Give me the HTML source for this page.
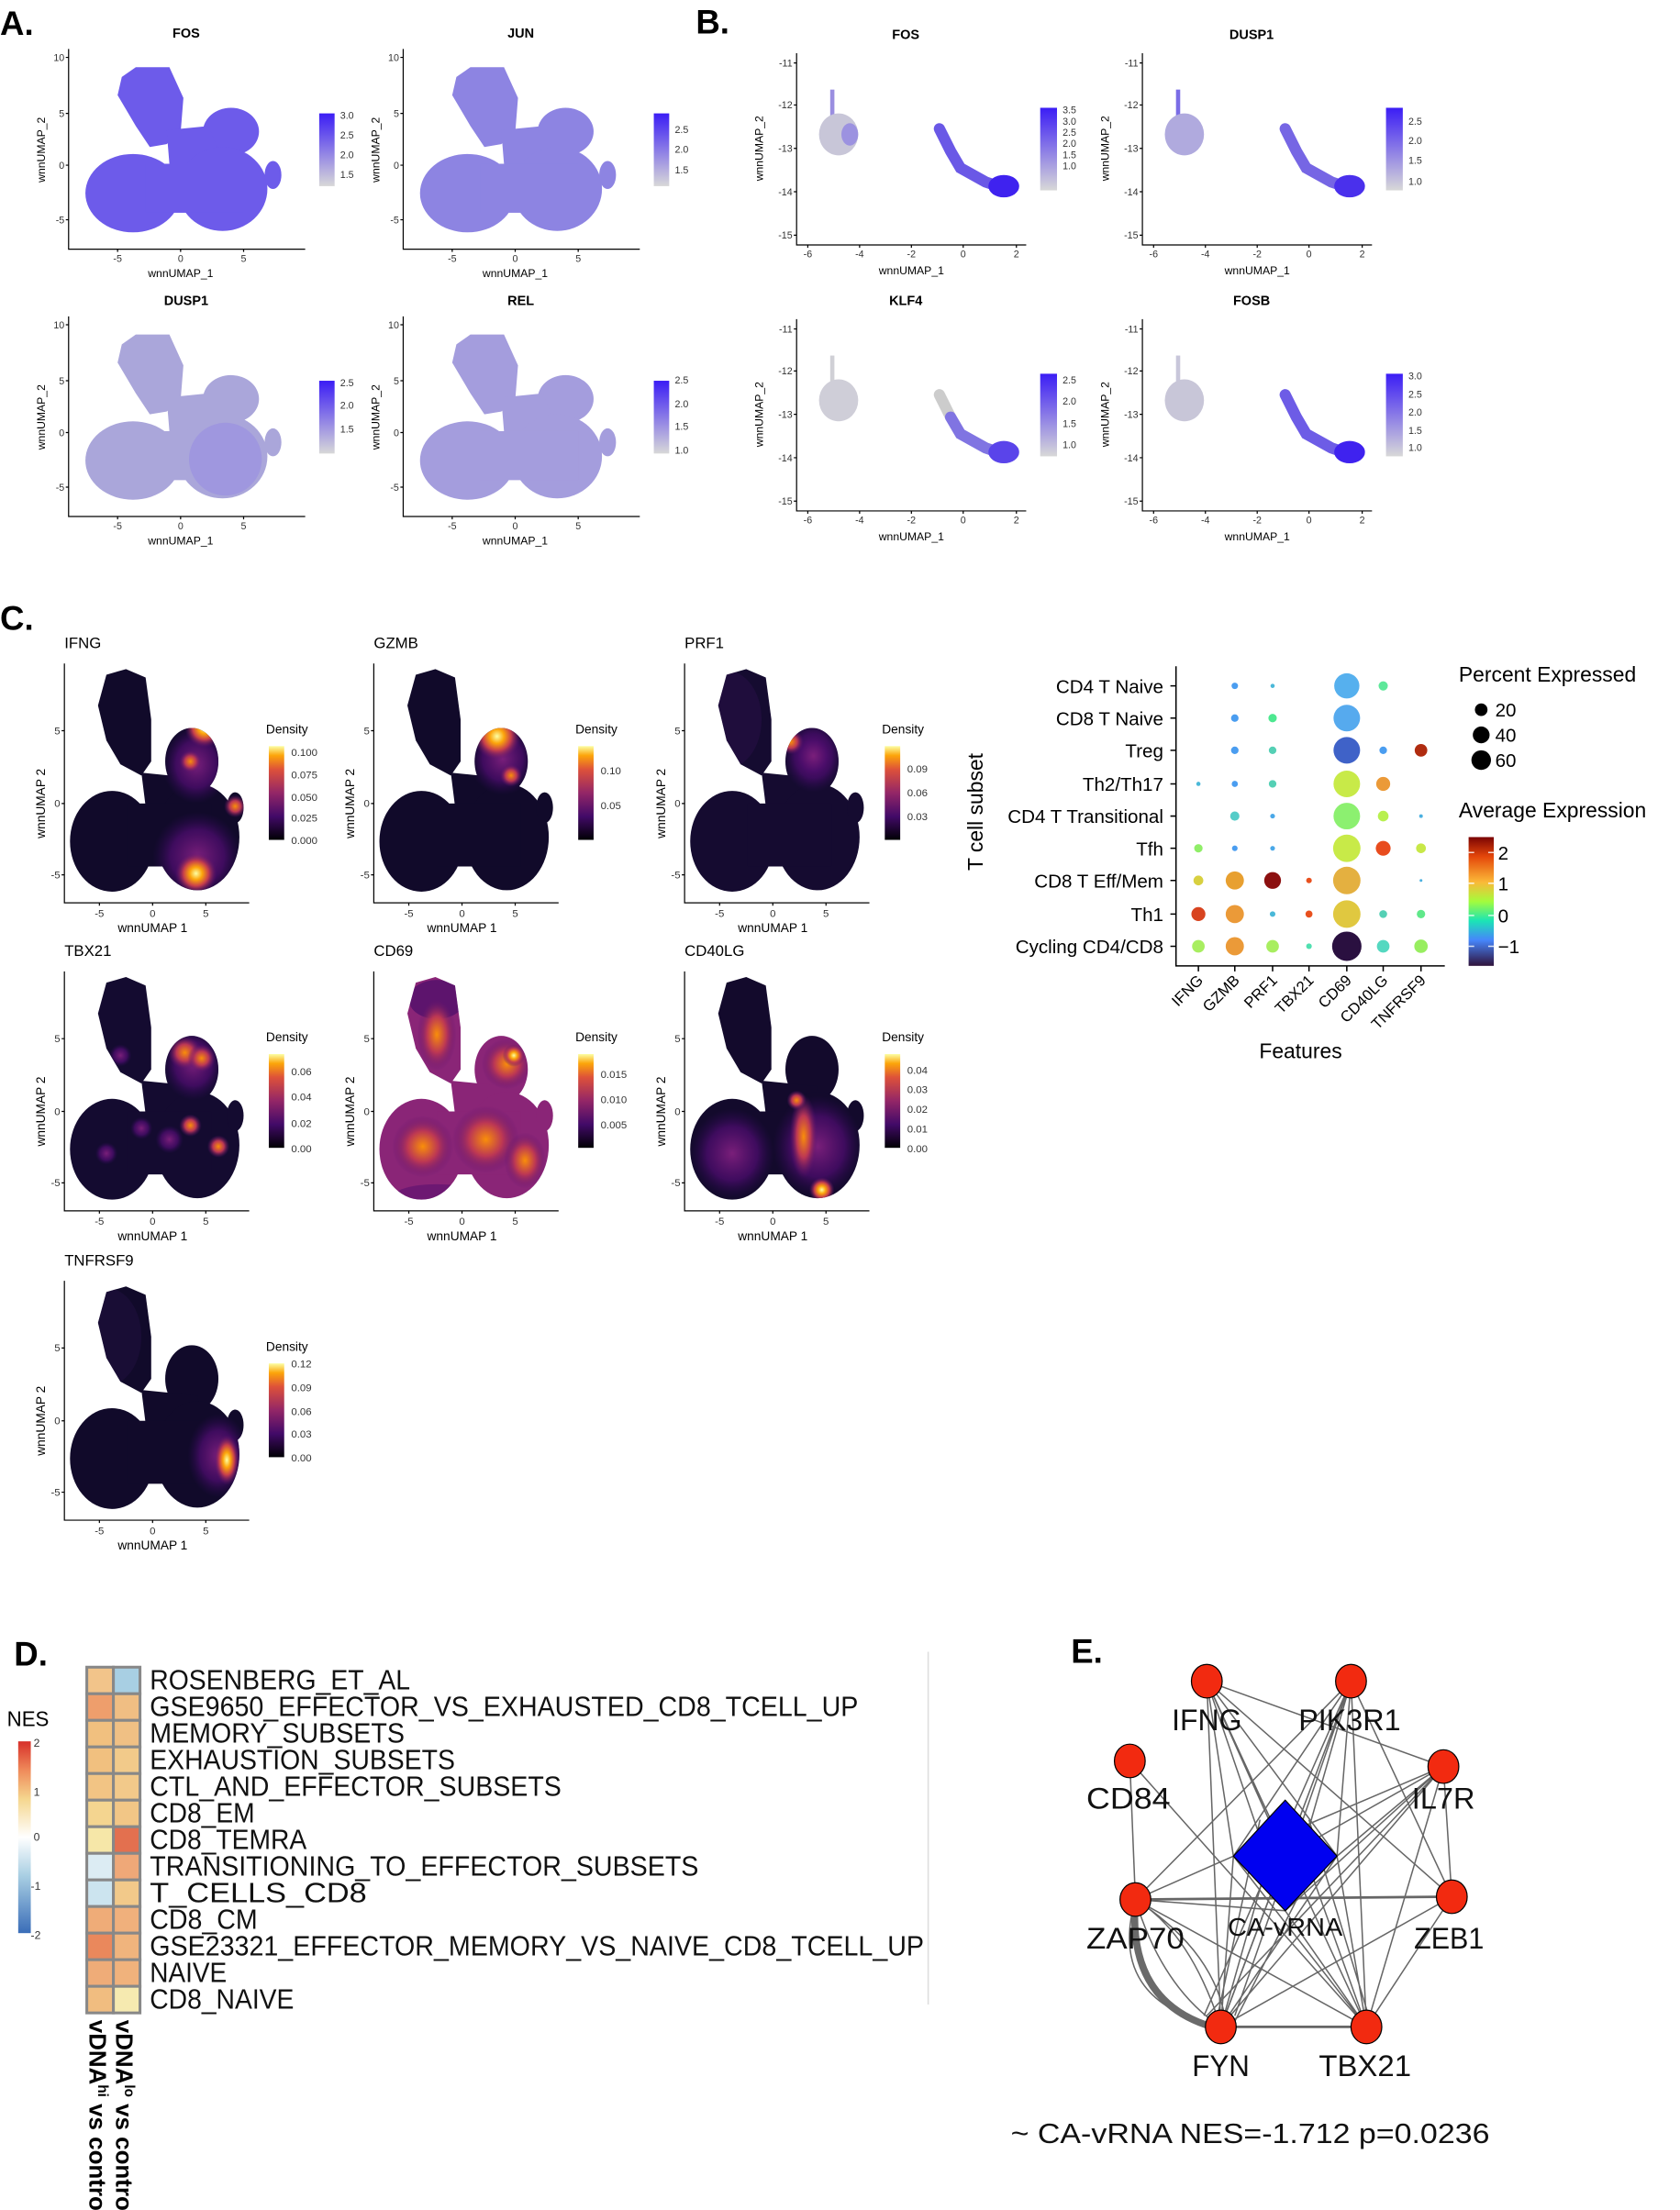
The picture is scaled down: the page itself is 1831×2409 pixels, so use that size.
<!DOCTYPE html>
<html><head><meta charset="utf-8"><style>html,body{margin:0;padding:0;background:#fff}svg{display:block}text{font-family:"Liberation Sans",sans-serif}</style></head><body>
<svg width="1831" height="2409" viewBox="0 0 1200 1578.8" preserveAspectRatio="none" xmlns="http://www.w3.org/2000/svg">
<defs>
<linearGradient id="gA" x1="0" y1="0" x2="0" y2="1"><stop offset="0" stop-color="#3b1df5"/><stop offset="1" stop-color="#d8d8d8"/></linearGradient>
<linearGradient id="gInf" x1="0" y1="1" x2="0" y2="0"><stop offset="0" stop-color="#000004"/><stop offset=".25" stop-color="#420a68"/><stop offset=".5" stop-color="#932667"/><stop offset=".75" stop-color="#dd513a"/><stop offset=".9" stop-color="#fca50a"/><stop offset="1" stop-color="#fcffa4"/></linearGradient>
<linearGradient id="gTurbo" x1="0" y1="1" x2="0" y2="0"><stop offset="0" stop-color="#30123b"/><stop offset=".2" stop-color="#4686fb"/><stop offset=".35" stop-color="#1be5b5"/><stop offset=".5" stop-color="#a4fc3c"/><stop offset=".65" stop-color="#fbb938"/><stop offset=".85" stop-color="#e4460a"/><stop offset="1" stop-color="#7a0403"/></linearGradient>
<linearGradient id="gNES" x1="0" y1="1" x2="0" y2="0"><stop offset="0" stop-color="#3a6db8"/><stop offset=".3" stop-color="#a9cfe3"/><stop offset=".5" stop-color="#ffffff"/><stop offset=".7" stop-color="#f5d68e"/><stop offset=".85" stop-color="#ef8a5a"/><stop offset="1" stop-color="#d7302a"/></linearGradient>
<radialGradient id="hY"><stop offset="0" stop-color="#fcffa4"/><stop offset=".3" stop-color="#fca50a"/><stop offset=".6" stop-color="#c73e4c"/><stop offset="1" stop-color="#57106e" stop-opacity="0"/></radialGradient>
<radialGradient id="hO"><stop offset="0" stop-color="#f98e09"/><stop offset=".5" stop-color="#bc3754"/><stop offset="1" stop-color="#57106e" stop-opacity="0"/></radialGradient>
<radialGradient id="hP"><stop offset="0" stop-color="#7a1f7a"/><stop offset=".6" stop-color="#4a0c6b" stop-opacity=".8"/><stop offset="1" stop-color="#2a0a50" stop-opacity="0"/></radialGradient>
<g id="shA">
<polygon points="38,20 48,13 72,13 82,35 80,60 70,68 58,70 48,55 35,33"/>
<ellipse cx="116" cy="59" rx="20" ry="17"/>
<polygon points="70,58 100,55 112,85 95,92 72,82"/>
<ellipse cx="46" cy="103" rx="34" ry="28"/>
<ellipse cx="110" cy="100" rx="32" ry="30"/>
<ellipse cx="146" cy="90" rx="6" ry="10"/>
<rect x="55" y="82" width="70" height="35"/>
</g>
<g id="shC">
<polygon points="30,8 44,4 58,10 62,40 62,70 55,80 40,72 30,55 24,30"/>
<ellipse cx="91" cy="70" rx="19" ry="24"/>
<polygon points="55,78 95,82 98,100 58,102"/>
<ellipse cx="34" cy="127" rx="30" ry="36"/>
<ellipse cx="95" cy="124" rx="30" ry="38"/>
<ellipse cx="122" cy="103" rx="6" ry="11"/>
<rect x="45" y="100" width="60" height="45"/>
</g>
<clipPath id="clC">
<polygon points="30,8 44,4 58,10 62,40 62,70 55,80 40,72 30,55 24,30"/>
<ellipse cx="91" cy="70" rx="19" ry="24"/>
<polygon points="55,78 95,82 98,100 58,102"/>
<ellipse cx="34" cy="127" rx="30" ry="36"/>
<ellipse cx="95" cy="124" rx="30" ry="38"/>
<ellipse cx="122" cy="103" rx="6" ry="11"/>
<rect x="45" y="100" width="60" height="45"/>
</clipPath>
<g id="axA" stroke="#000" stroke-width=".8" fill="none"><path d="M0,0V143H169"/><path d="M-2,6H0M-2,46H0M-2,83H0M-2,122H0M35,143v2M80,143v2M125,143v2"/></g>
<g id="axAt" font-size="7" fill="#333"><g text-anchor="end"><text x="-3" y="8.5">10</text><text x="-3" y="48.5">5</text><text x="-3" y="85.5">0</text><text x="-3" y="124.5">-5</text></g><g text-anchor="middle"><text x="35" y="152">-5</text><text x="80" y="152">0</text><text x="125" y="152">5</text><text x="80" y="163" font-size="8" fill="#000">wnnUMAP_1</text></g><text transform="translate(-17,72) rotate(-90)" text-anchor="middle" font-size="8" fill="#000">wnnUMAP_2</text></g>
<g id="axB" stroke="#000" stroke-width=".8" fill="none"><path d="M0,0V137H164"/><path d="M-2,7H0M-2,37H0M-2,68H0M-2,99H0M-2,130H0M8,137v2M45,137v2M82,137v2M119,137v2M157,137v2"/></g>
<g id="axBt" font-size="7" fill="#333"><g text-anchor="end"><text x="-3" y="9.5">-11</text><text x="-3" y="39.5">-12</text><text x="-3" y="70.5">-13</text><text x="-3" y="101.5">-14</text><text x="-3" y="132.5">-15</text></g><g text-anchor="middle"><text x="8" y="146">-6</text><text x="45" y="146">-4</text><text x="82" y="146">-2</text><text x="119" y="146">0</text><text x="157" y="146">2</text><text x="82" y="158" font-size="8" fill="#000">wnnUMAP_1</text></g><text transform="translate(-24,68) rotate(-90)" text-anchor="middle" font-size="8" fill="#000">wnnUMAP_2</text></g>
<g id="axC" stroke="#000" stroke-width=".8" fill="none"><path d="M0,0V171H132"/><path d="M-2,48H0M-2,100H0M-2,151H0M25,171v2M63,171v2M101,171v2"/></g>
<g id="axCt" font-size="7.5" fill="#333"><g text-anchor="end"><text x="-3" y="50.5">5</text><text x="-3" y="102.5">0</text><text x="-3" y="153.5">-5</text></g><g text-anchor="middle"><text x="25" y="181">-5</text><text x="63" y="181">0</text><text x="101" y="181">5</text><text x="63" y="192" font-size="9" fill="#000">wnnUMAP 1</text></g><text transform="translate(-14,100) rotate(-90)" text-anchor="middle" font-size="9" fill="#000">wnnUMAP 2</text></g>
</defs>
<rect width="1200" height="1579" fill="#fff"/>

<!-- Panel A -->
<text x="0" y="25" font-size="24" font-weight="bold">A.</text>
<text x="497" y="24" font-size="24" font-weight="bold">B.</text>
<g transform="translate(49,35)"><use href="#shA" fill="#6d5bea"/><use href="#axA"/><use href="#axAt"/><text x="84" y="-8" text-anchor="middle" font-size="9.5" font-weight="bold">FOS</text>
<rect x="179" y="46" width="11" height="52" fill="url(#gA)"/><g font-size="7" fill="#333"><text x="194" y="50">3.0</text><text x="194" y="64">2.5</text><text x="194" y="78">2.0</text><text x="194" y="92">1.5</text></g></g>
<g transform="translate(288,35)"><use href="#shA" fill="#8d84e2"/><use href="#axA"/><use href="#axAt"/><text x="84" y="-8" text-anchor="middle" font-size="9.5" font-weight="bold">JUN</text>
<rect x="179" y="46" width="11" height="52" fill="url(#gA)"/><g font-size="7" fill="#333"><text x="194" y="60">2.5</text><text x="194" y="74">2.0</text><text x="194" y="89">1.5</text></g></g>
<g transform="translate(49,226)"><use href="#shA" fill="#aaa6da"/><ellipse cx="112" cy="102" rx="26" ry="26" fill="#9c94e0" opacity=".8"/><use href="#axA"/><use href="#axAt"/><text x="84" y="-8" text-anchor="middle" font-size="9.5" font-weight="bold">DUSP1</text>
<rect x="179" y="46" width="11" height="52" fill="url(#gA)"/><g font-size="7" fill="#333"><text x="194" y="50">2.5</text><text x="194" y="66">2.0</text><text x="194" y="83">1.5</text></g></g>
<g transform="translate(288,226)"><use href="#shA" fill="#a49ddd"/><use href="#axA"/><use href="#axAt"/><text x="84" y="-8" text-anchor="middle" font-size="9.5" font-weight="bold">REL</text>
<rect x="179" y="46" width="11" height="52" fill="url(#gA)"/><g font-size="7" fill="#333"><text x="194" y="48">2.5</text><text x="194" y="65">2.0</text><text x="194" y="81">1.5</text><text x="194" y="98">1.0</text></g></g>

<!-- Panel B -->
<g transform="translate(569,38)"><rect x="24" y="26" width="3" height="20" fill="#9a8ee0"/><ellipse cx="30" cy="58" rx="14" ry="15" fill="#c8c6d8"/><ellipse cx="38" cy="58" rx="6" ry="8" fill="#9c92e0"/><path d="M102,54 L110,70 L117,82 L135,92 L150,97" stroke="#6a58e6" stroke-width="8" fill="none" stroke-linecap="round"/><ellipse cx="148" cy="95" rx="11" ry="8" fill="#3f22ef"/><use href="#axB"/><use href="#axBt"/><text x="78" y="-10" text-anchor="middle" font-size="9.5" font-weight="bold">FOS</text>
<rect x="174" y="39" width="12" height="59" fill="url(#gA)"/><g font-size="7" fill="#333"><text x="190" y="43">3.5</text><text x="190" y="51">3.0</text><text x="190" y="59">2.5</text><text x="190" y="67">2.0</text><text x="190" y="75">1.5</text><text x="190" y="83">1.0</text></g></g>
<g transform="translate(816,38)"><rect x="24" y="26" width="3" height="20" fill="#7a6ce6"/><ellipse cx="30" cy="58" rx="14" ry="15" fill="#b0aade"/><path d="M102,54 L110,70 L117,82 L135,92 L150,97" stroke="#7666e4" stroke-width="8" fill="none" stroke-linecap="round"/><ellipse cx="148" cy="95" rx="11" ry="8" fill="#4a30ec"/><use href="#axB"/><use href="#axBt"/><text x="78" y="-10" text-anchor="middle" font-size="9.5" font-weight="bold">DUSP1</text>
<rect x="174" y="39" width="12" height="59" fill="url(#gA)"/><g font-size="7" fill="#333"><text x="190" y="51">2.5</text><text x="190" y="65">2.0</text><text x="190" y="79">1.5</text><text x="190" y="94">1.0</text></g></g>
<g transform="translate(569,228)"><rect x="24" y="26" width="3" height="20" fill="#d0d0d6"/><ellipse cx="30" cy="58" rx="14" ry="15" fill="#cfced8"/><path d="M102,54 L110,70" stroke="#ccc" stroke-width="8" fill="none" stroke-linecap="round"/><path d="M110,70 L117,82 L135,92 L150,97" stroke="#8074e2" stroke-width="8" fill="none" stroke-linecap="round"/><ellipse cx="148" cy="95" rx="11" ry="8" fill="#5a44ea"/><use href="#axB"/><use href="#axBt"/><text x="78" y="-10" text-anchor="middle" font-size="9.5" font-weight="bold">KLF4</text>
<rect x="174" y="39" width="12" height="59" fill="url(#gA)"/><g font-size="7" fill="#333"><text x="190" y="46">2.5</text><text x="190" y="61">2.0</text><text x="190" y="77">1.5</text><text x="190" y="92">1.0</text></g></g>
<g transform="translate(816,228)"><rect x="24" y="26" width="3" height="20" fill="#c8c6da"/><ellipse cx="30" cy="58" rx="14" ry="15" fill="#c8c6d8"/><path d="M102,54 L110,70 L117,82 L135,92 L150,97" stroke="#6d5ce6" stroke-width="8" fill="none" stroke-linecap="round"/><ellipse cx="148" cy="95" rx="11" ry="8" fill="#3f22ef"/><use href="#axB"/><use href="#axBt"/><text x="78" y="-10" text-anchor="middle" font-size="9.5" font-weight="bold">FOSB</text>
<rect x="174" y="39" width="12" height="59" fill="url(#gA)"/><g font-size="7" fill="#333"><text x="190" y="43">3.0</text><text x="190" y="56">2.5</text><text x="190" y="69">2.0</text><text x="190" y="82">1.5</text><text x="190" y="94">1.0</text></g></g>

<!-- Panel C -->
<text x="0" y="450" font-size="24" font-weight="bold">C.</text>
<g transform="translate(46,474)"><use href="#shC" fill="#110a2a"/><g clip-path="url(#clC)"><ellipse cx="94" cy="72" rx="24" ry="28" fill="url(#hP)"/><ellipse cx="95" cy="138" rx="32" ry="32" fill="url(#hP)"/><circle cx="100" cy="46" r="14" fill="url(#hY)"/><circle cx="90" cy="70" r="8" fill="url(#hO)"/><circle cx="122" cy="102" r="8" fill="url(#hO)"/><circle cx="94" cy="150" r="15" fill="url(#hY)"/></g>
<use href="#axC"/><use href="#axCt"/><text x="0" y="-11" font-size="11">IFNG</text>
<text x="144" y="50" font-size="9">Density</text><rect x="146" y="59" width="11" height="67" fill="url(#gInf)"/><g font-size="7.5" fill="#333"><text x="162" y="66">0.100</text><text x="162" y="82">0.075</text><text x="162" y="98">0.050</text><text x="162" y="113">0.025</text><text x="162" y="129">0.000</text></g></g>
<g transform="translate(267,474)"><use href="#shC" fill="#110a2a"/><g clip-path="url(#clC)"><ellipse cx="92" cy="68" rx="24" ry="26" fill="url(#hP)"/><circle cx="88" cy="52" r="17" fill="url(#hY)"/><circle cx="98" cy="80" r="8" fill="url(#hO)"/></g>
<use href="#axC"/><use href="#axCt"/><text x="0" y="-11" font-size="11">GZMB</text>
<text x="144" y="50" font-size="9">Density</text><rect x="146" y="59" width="11" height="67" fill="url(#gInf)"/><g font-size="7.5" fill="#333"><text x="162" y="79">0.10</text><text x="162" y="104">0.05</text></g></g>
<g transform="translate(489,474)"><use href="#shC" fill="#150b30"/><g clip-path="url(#clC)"><ellipse cx="92" cy="66" rx="22" ry="26" fill="url(#hP)"/><ellipse cx="92" cy="66" rx="16" ry="18" fill="url(#hP)"/><circle cx="76" cy="56" r="9" fill="url(#hO)"/><ellipse cx="30" cy="40" rx="25" ry="35" fill="#2a0f48" opacity=".5"/></g>
<use href="#axC"/><use href="#axCt"/><text x="0" y="-11" font-size="11">PRF1</text>
<text x="141" y="50" font-size="9">Density</text><rect x="143" y="59" width="11" height="67" fill="url(#gInf)"/><g font-size="7.5" fill="#333"><text x="159" y="78">0.09</text><text x="159" y="95">0.06</text><text x="159" y="112">0.03</text></g></g>
<g transform="translate(46,694)"><use href="#shC" fill="#140b30"/><g clip-path="url(#clC)"><ellipse cx="92" cy="66" rx="22" ry="26" fill="url(#hP)"/><circle cx="86" cy="58" r="12" fill="url(#hO)"/><circle cx="98" cy="62" r="10" fill="url(#hO)"/><circle cx="75" cy="120" r="10" fill="url(#hP)"/><circle cx="90" cy="110" r="8" fill="url(#hO)"/><circle cx="110" cy="125" r="8" fill="url(#hO)"/><circle cx="40" cy="60" r="8" fill="url(#hP)"/><circle cx="30" cy="130" r="8" fill="url(#hP)"/><circle cx="55" cy="112" r="8" fill="url(#hP)"/></g>
<use href="#axC"/><use href="#axCt"/><text x="0" y="-11" font-size="11">TBX21</text>
<text x="144" y="50" font-size="9">Density</text><rect x="146" y="59" width="11" height="67" fill="url(#gInf)"/><g font-size="7.5" fill="#333"><text x="162" y="74">0.06</text><text x="162" y="92">0.04</text><text x="162" y="111">0.02</text><text x="162" y="129">0.00</text></g></g>
<g transform="translate(267,694)"><use href="#shC" fill="#8a2577"/><g clip-path="url(#clC)"><ellipse cx="45" cy="20" rx="20" ry="14" fill="#4a0d6a" opacity=".7"/><ellipse cx="45" cy="45" rx="14" ry="26" fill="url(#hO)"/><circle cx="95" cy="66" r="18" fill="url(#hO)"/><circle cx="100" cy="60" r="8" fill="url(#hY)"/><ellipse cx="35" cy="125" rx="22" ry="22" fill="url(#hO)"/><ellipse cx="80" cy="120" rx="24" ry="24" fill="url(#hO)"/><ellipse cx="108" cy="135" rx="15" ry="20" fill="url(#hO)"/><ellipse cx="45" cy="160" rx="30" ry="8" fill="#5a1070" opacity=".6"/></g>
<use href="#axC"/><use href="#axCt"/><text x="0" y="-11" font-size="11">CD69</text>
<text x="144" y="50" font-size="9">Density</text><rect x="146" y="59" width="11" height="67" fill="url(#gInf)"/><g font-size="7.5" fill="#333"><text x="162" y="76">0.015</text><text x="162" y="94">0.010</text><text x="162" y="112">0.005</text></g></g>
<g transform="translate(489,694)"><use href="#shC" fill="#130a2c"/><g clip-path="url(#clC)"><ellipse cx="34" cy="130" rx="30" ry="32" fill="url(#hP)"/><ellipse cx="95" cy="125" rx="32" ry="36" fill="url(#hP)"/><ellipse cx="85" cy="118" rx="10" ry="30" fill="url(#hO)"/><circle cx="98" cy="156" r="9" fill="url(#hY)"/><circle cx="80" cy="92" r="7" fill="url(#hO)"/></g>
<use href="#axC"/><use href="#axCt"/><text x="0" y="-11" font-size="11">CD40LG</text>
<text x="141" y="50" font-size="9">Density</text><rect x="143" y="59" width="11" height="67" fill="url(#gInf)"/><g font-size="7.5" fill="#333"><text x="159" y="73">0.04</text><text x="159" y="87">0.03</text><text x="159" y="101">0.02</text><text x="159" y="115">0.01</text><text x="159" y="129">0.00</text></g></g>
<g transform="translate(46,915)"><use href="#shC" fill="#110a2a"/><g clip-path="url(#clC)"><ellipse cx="110" cy="125" rx="22" ry="30" fill="url(#hP)"/><ellipse cx="116" cy="128" rx="9" ry="18" fill="url(#hY)"/><ellipse cx="30" cy="40" rx="25" ry="35" fill="#221040" opacity=".5"/></g>
<use href="#axC"/><use href="#axCt"/><text x="0" y="-11" font-size="11">TNFRSF9</text>
<text x="144" y="50" font-size="9">Density</text><rect x="146" y="59" width="11" height="67" fill="url(#gInf)"/><g font-size="7.5" fill="#333"><text x="162" y="62">0.12</text><text x="162" y="79">0.09</text><text x="162" y="96">0.06</text><text x="162" y="112">0.03</text><text x="162" y="129">0.00</text></g></g>

<!-- Dot plot -->
<g>
<path d="M840,476V690H1032" stroke="#000" stroke-width="1" fill="none"/>
<g stroke="#000" stroke-width="1"><path d="M836,490h4M836,513h4M836,536h4M836,560h4M836,583h4M836,606h4M836,629h4M836,653h4M836,676h4"/><path d="M856,690v4M882,690v4M909,690v4M935,690v4M962,690v4M988,690v4M1015,690v4"/></g>
<g font-size="13.5" text-anchor="end"><text x="831" y="495">CD4 T Naive</text><text x="831" y="518">CD8 T Naive</text><text x="831" y="541">Treg</text><text x="831" y="565">Th2/Th17</text><text x="831" y="588">CD4 T Transitional</text><text x="831" y="611">Tfh</text><text x="831" y="634">CD8 T Eff/Mem</text><text x="831" y="658">Th1</text><text x="831" y="681">Cycling CD4/CD8</text></g>
<g font-size="11" text-anchor="end"><text transform="translate(860,701) rotate(-45)">IFNG</text><text transform="translate(886,701) rotate(-45)">GZMB</text><text transform="translate(913,701) rotate(-45)">PRF1</text><text transform="translate(939,701) rotate(-45)">TBX21</text><text transform="translate(966,701) rotate(-45)">CD69</text><text transform="translate(992,701) rotate(-45)">CD40LG</text><text transform="translate(1019,701) rotate(-45)">TNFRSF9</text></g>
<text x="929" y="756" font-size="15" text-anchor="middle">Features</text>
<text transform="translate(702,580) rotate(-90)" font-size="15" text-anchor="middle">T cell subset</text>
<circle cx="882" cy="490" r="2.3" fill="#4a9df0"/><circle cx="909" cy="490" r="1.5" fill="#4ab8d8"/><circle cx="962" cy="490" r="9" fill="#56b0ee"/><circle cx="988" cy="490" r="3.3" fill="#5ee89a"/>
<circle cx="882" cy="513" r="2.7" fill="#4a9df0"/><circle cx="909" cy="513" r="3" fill="#4de890"/><circle cx="962" cy="513" r="9.5" fill="#56aaee"/>
<circle cx="882" cy="536" r="2.7" fill="#4a9df0"/><circle cx="909" cy="536" r="2.7" fill="#55d0b5"/><circle cx="962" cy="536" r="9.5" fill="#3f62c8"/><circle cx="988" cy="536" r="2.7" fill="#4a9df0"/><circle cx="1015" cy="536" r="4.5" fill="#b02c10"/>
<circle cx="856" cy="560" r="1.5" fill="#4ab8d8"/><circle cx="882" cy="560" r="2.2" fill="#4a9df0"/><circle cx="909" cy="560" r="2.7" fill="#55d0b5"/><circle cx="962" cy="560" r="9.5" fill="#c8ea48"/><circle cx="988" cy="560" r="5" fill="#eb9a38"/>
<circle cx="882" cy="583" r="3.3" fill="#55ccc8"/><circle cx="909" cy="583" r="1.7" fill="#4aa8e8"/><circle cx="962" cy="583" r="9.5" fill="#8cf070"/><circle cx="988" cy="583" r="3.8" fill="#b8f050"/><circle cx="1015" cy="583" r="1.3" fill="#4ab0e0"/>
<circle cx="856" cy="606" r="3" fill="#90ee68"/><circle cx="882" cy="606" r="2" fill="#4a9df0"/><circle cx="909" cy="606" r="1.7" fill="#4aa8e8"/><circle cx="962" cy="606" r="9.8" fill="#c8ea48"/><circle cx="988" cy="606" r="5.3" fill="#e84c1e"/><circle cx="1015" cy="606" r="3.5" fill="#c8e848"/>
<circle cx="856" cy="629" r="3.5" fill="#d8d040"/><circle cx="882" cy="629" r="6.5" fill="#e8a030"/><circle cx="909" cy="629" r="6" fill="#8c1010"/><circle cx="935" cy="629" r="2" fill="#e8501e"/><circle cx="962" cy="629" r="9.8" fill="#e4b040"/><circle cx="1015" cy="629" r="1" fill="#4ab0e0"/>
<circle cx="856" cy="653" r="5" fill="#d84420"/><circle cx="882" cy="653" r="6.5" fill="#eb9a38"/><circle cx="909" cy="653" r="2" fill="#4ab8d8"/><circle cx="935" cy="653" r="2.5" fill="#e8501e"/><circle cx="962" cy="653" r="9.8" fill="#e0c840"/><circle cx="988" cy="653" r="2.8" fill="#55d0b5"/><circle cx="1015" cy="653" r="3" fill="#60e88a"/>
<circle cx="856" cy="676" r="4.5" fill="#a8ee60"/><circle cx="882" cy="676" r="6.5" fill="#eb9a38"/><circle cx="909" cy="676" r="4.5" fill="#a8ee60"/><circle cx="935" cy="676" r="2" fill="#50e0b0"/><circle cx="962" cy="676" r="10.5" fill="#2a1040"/><circle cx="988" cy="676" r="4.5" fill="#55d8c0"/><circle cx="1015" cy="676" r="4.8" fill="#98ee60"/>
<text x="1042" y="487" font-size="15">Percent Expressed</text>
<circle cx="1058" cy="507" r="4.5"/><circle cx="1058" cy="525" r="6"/><circle cx="1058" cy="543" r="7"/>
<g font-size="13.5"><text x="1068" y="512">20</text><text x="1068" y="530">40</text><text x="1068" y="548">60</text></g>
<text x="1042" y="584" font-size="15">Average Expression</text>
<rect x="1049" y="598" width="18" height="92" fill="url(#gTurbo)"/>
<g stroke="#fff" stroke-width="1" opacity=".8"><path d="M1049,609h4M1063,609h4M1049,631h4M1063,631h4M1049,654h4M1063,654h4M1049,676h4M1063,676h4"/></g>
<g font-size="13.5"><text x="1070" y="614">2</text><text x="1070" y="636">1</text><text x="1070" y="659">0</text><text x="1070" y="681">−1</text></g>
</g>

<!-- Panel D -->
<text x="10" y="1190" font-size="24" font-weight="bold">D.</text>
<text x="5" y="1233" font-size="15" textLength="30" lengthAdjust="spacingAndGlyphs">NES</text>
<rect x="13" y="1244" width="9" height="137" fill="url(#gNES)"/>
<g font-size="8" fill="#333"><text x="24" y="1248">2</text><text x="24" y="1283">1</text><text x="24" y="1315">0</text><text x="22" y="1350">-1</text><text x="22" y="1385">-2</text></g>
<g stroke="#888" stroke-width="2">
<rect x="62" y="1191" width="19" height="19" fill="#f2c48a"/><rect x="81" y="1191" width="19" height="19" fill="#a8cfe3"/>
<rect x="62" y="1210" width="19" height="19" fill="#ee9e6c"/><rect x="81" y="1210" width="19" height="19" fill="#f0be83"/>
<rect x="62" y="1229" width="19" height="19" fill="#f1c07f"/><rect x="81" y="1229" width="19" height="19" fill="#f0c084"/>
<rect x="62" y="1248" width="19" height="19" fill="#f1c07f"/><rect x="81" y="1248" width="19" height="19" fill="#f2ca8a"/>
<rect x="62" y="1267" width="19" height="19" fill="#f2c484"/><rect x="81" y="1267" width="19" height="19" fill="#f2c98a"/>
<rect x="62" y="1286" width="19" height="19" fill="#f4d590"/><rect x="81" y="1286" width="19" height="19" fill="#f2c686"/>
<rect x="62" y="1305" width="19" height="19" fill="#f6e7a8"/><rect x="81" y="1305" width="19" height="19" fill="#e3704f"/>
<rect x="62" y="1324" width="19" height="19" fill="#dcecf3"/><rect x="81" y="1324" width="19" height="19" fill="#efa878"/>
<rect x="62" y="1343" width="19" height="19" fill="#cce4ef"/><rect x="81" y="1343" width="19" height="19" fill="#f2c98a"/>
<rect x="62" y="1362" width="19" height="19" fill="#efac78"/><rect x="81" y="1362" width="19" height="19" fill="#f0b07c"/>
<rect x="62" y="1381" width="19" height="19" fill="#ea885c"/><rect x="81" y="1381" width="19" height="19" fill="#f0b47d"/>
<rect x="62" y="1400" width="19" height="19" fill="#efac78"/><rect x="81" y="1400" width="19" height="19" fill="#f0b27c"/>
<rect x="62" y="1419" width="19" height="19" fill="#f1bd80"/><rect x="81" y="1419" width="19" height="19" fill="#f6eab0"/>
</g>
<g font-size="20" fill="#111">
<text x="107" y="1207" textLength="186" lengthAdjust="spacingAndGlyphs">ROSENBERG_ET_AL</text>
<text x="107" y="1226" textLength="506" lengthAdjust="spacingAndGlyphs">GSE9650_EFFECTOR_VS_EXHAUSTED_CD8_TCELL_UP</text>
<text x="107" y="1245" textLength="182" lengthAdjust="spacingAndGlyphs">MEMORY_SUBSETS</text>
<text x="107" y="1264" textLength="218" lengthAdjust="spacingAndGlyphs">EXHAUSTION_SUBSETS</text>
<text x="107" y="1283" textLength="294" lengthAdjust="spacingAndGlyphs">CTL_AND_EFFECTOR_SUBSETS</text>
<text x="107" y="1302" textLength="75" lengthAdjust="spacingAndGlyphs">CD8_EM</text>
<text x="107" y="1321" textLength="112" lengthAdjust="spacingAndGlyphs">CD8_TEMRA</text>
<text x="107" y="1340" textLength="392" lengthAdjust="spacingAndGlyphs">TRANSITIONING_TO_EFFECTOR_SUBSETS</text>
<text x="107" y="1359" textLength="155" lengthAdjust="spacingAndGlyphs">T_CELLS_CD8</text>
<text x="107" y="1378" textLength="77" lengthAdjust="spacingAndGlyphs">CD8_CM</text>
<text x="107" y="1397" textLength="553" lengthAdjust="spacingAndGlyphs">GSE23321_EFFECTOR_MEMORY_VS_NAIVE_CD8_TCELL_UP</text>
<text x="107" y="1416" textLength="55" lengthAdjust="spacingAndGlyphs">NAIVE</text>
<text x="107" y="1435" textLength="103" lengthAdjust="spacingAndGlyphs">CD8_NAIVE</text>
</g>
<line x1="663" y1="1180" x2="663" y2="1432" stroke="#ddd" stroke-width="1"/>
<g font-size="17" font-weight="bold">
<text transform="translate(64,1443) rotate(90)">vDNA<tspan font-size="10" dy="-6">hi</tspan><tspan dy="6"> vs control</tspan></text>
<text transform="translate(83,1443) rotate(90)">vDNA<tspan font-size="10" dy="-6">lo</tspan><tspan dy="6"> vs control</tspan></text>
</g>

<!-- Panel E -->
<text x="765" y="1188" font-size="24" font-weight="bold">E.</text>
<g stroke="#666" stroke-width="1" fill="none">
<path d="M862,1201L872,1448M862,1201L976,1448M862,1201L1031,1262M862,1201L918,1326M862,1201L955,1326M862,1201L881,1326M862,1201L1037,1355M862,1201L918,1365"/>
<path d="M965,1201L872,1448M965,1201L976,1448M965,1201L811,1357M965,1201L918,1326M965,1201L881,1326M965,1201L918,1365M965,1201L1037,1355M965,1201L955,1326M965,1201L860,1440M965,1201L882,1440"/>
<path d="M807,1258L811,1357M807,1258L976,1448"/>
<path d="M1031,1262L1037,1355M1031,1262L872,1448M1031,1262L976,1448M1031,1262L918,1326M1031,1262L955,1326M1031,1262L918,1365M1031,1262L881,1326M1031,1262L862,1440"/>
<path d="M811,1357L1037,1355M811,1357L881,1326M811,1357L976,1448M811,1357L918,1365"/>
<path d="M811,1357Q850,1380 872,1448M811,1357Q830,1420 872,1448M811,1357Q790,1430 872,1448M811,1357Q870,1395 876,1448"/>
<path d="M1037,1355L976,1448M1037,1355L872,1448"/>
<path d="M872,1448L918,1326M872,1448L955,1326M872,1448L881,1326M872,1448L918,1286M976,1448L918,1365M976,1448L881,1326M976,1448L955,1326M976,1448L918,1286M880,1448L940,1330M868,1448L900,1300M980,1448L935,1300"/>
</g>
<path d="M811,1357Q805,1430 866,1448" stroke="#6a6a6a" stroke-width="5" fill="none"/>
<path d="M811,1357L1037,1355M872,1448L976,1448" stroke="#666" stroke-width="1.8"/>
<polygon points="918,1286 955,1326 918,1365 881,1326" fill="#0000f0" stroke="#000" stroke-width=".8"/>
<g fill="#f22a10" stroke="#000" stroke-width=".8">
<ellipse cx="862" cy="1201" rx="11" ry="12"/><ellipse cx="965" cy="1201" rx="11" ry="12"/><ellipse cx="807" cy="1258" rx="11" ry="12"/><ellipse cx="1031" cy="1262" rx="11" ry="12"/><ellipse cx="811" cy="1357" rx="11" ry="12"/><ellipse cx="1037" cy="1355" rx="11" ry="12"/><ellipse cx="872" cy="1448" rx="11" ry="12"/><ellipse cx="976" cy="1448" rx="11" ry="12"/>
</g>
<g font-size="21" text-anchor="middle" fill="#111">
<text x="862" y="1236" textLength="50" lengthAdjust="spacingAndGlyphs">IFNG</text>
<text x="964" y="1236" textLength="73" lengthAdjust="spacingAndGlyphs">PIK3R1</text>
<text x="806" y="1292" textLength="60" lengthAdjust="spacingAndGlyphs">CD84</text>
<text x="1031" y="1292" textLength="45" lengthAdjust="spacingAndGlyphs">IL7R</text>
<text x="811" y="1392" textLength="70" lengthAdjust="spacingAndGlyphs">ZAP70</text>
<text x="918" y="1383" textLength="82" lengthAdjust="spacingAndGlyphs" font-size="18">CA-vRNA</text>
<text x="1035" y="1392" textLength="50" lengthAdjust="spacingAndGlyphs">ZEB1</text>
<text x="872" y="1483" textLength="41" lengthAdjust="spacingAndGlyphs">FYN</text>
<text x="975" y="1483" textLength="66" lengthAdjust="spacingAndGlyphs">TBX21</text>
</g>
<text x="722" y="1531" font-size="20" textLength="342" lengthAdjust="spacingAndGlyphs" fill="#111">~ CA-vRNA NES=-1.712 p=0.0236</text>
</svg>
</body></html>
